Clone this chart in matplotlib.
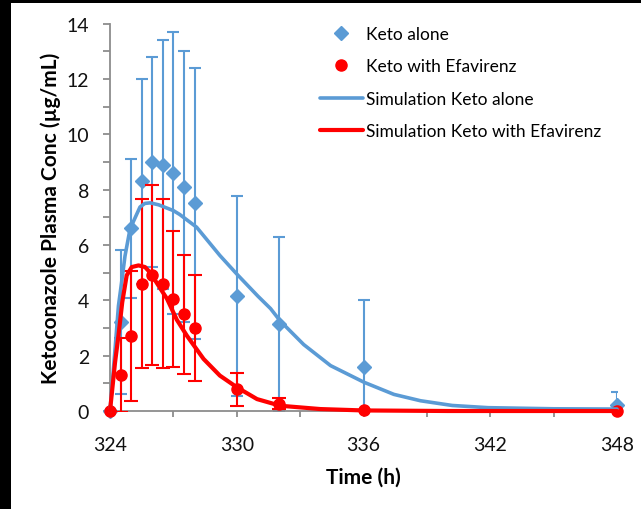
import matplotlib.pyplot as plt
from matplotlib.patches import Rectangle
from matplotlib.ticker import MultipleLocator

plt.rcParams['font.family'] = ['Lato', 'DejaVu Sans']

# observed data (mean, SD)
time_obs = [324, 324.5, 325, 325.5, 326, 326.5, 327, 327.5, 328, 330, 332, 336, 348]
keto_alone = [0, 3.2, 6.6, 8.3, 9.0, 8.9, 8.6, 8.1, 7.5, 4.15, 3.15, 1.6, 0.2]
keto_alone_sd = [0, 2.6, 2.5, 3.7, 3.8, 4.5, 5.1, 4.9, 4.9, 3.6, 3.15, 2.4, 0.5]
keto_efa = [0, 1.3, 2.7, 4.6, 4.9, 4.6, 4.05, 3.5, 3.0, 0.78, 0.27, 0.03, 0.0]
keto_efa_sd = [0, 1.35, 2.35, 3.05, 3.25, 3.05, 2.45, 2.15, 1.9, 0.6, 0.2, 0.0, 0.0]

# simulated profiles
sim_time_alone = [324, 324.24, 324.4, 324.55, 324.71, 324.95, 325.2, 325.42, 325.65,
                  325.9, 326.3, 327.0, 327.3, 328.1, 329.2, 330.0, 331.0, 331.6,
                  332.06, 333.17, 334.44, 336.02, 337.44, 338.7, 340.2, 341.9,
                  345, 348]
sim_alone = [0, 2.24, 3.8, 4.65, 5.6, 6.58, 7.0, 7.37, 7.5,
             7.52, 7.45, 7.24, 7.1, 6.64, 5.62, 4.95, 4.15, 3.7,
             3.25, 2.4, 1.64, 1.04, 0.6, 0.37, 0.2, 0.12,
             0.08, 0.07]
sim_time_efa = [324, 324.24, 324.4, 324.58, 324.79, 325.03, 325.35, 325.66, 325.9,
                326.7, 327.16, 327.64, 328.43, 329.2, 330.0, 330.96, 332.06,
                333.96, 336, 340, 348]
sim_efa = [0, 1.76, 2.72, 3.93, 4.9, 5.2, 5.26, 5.2, 5.0,
           4.05, 3.3, 2.72, 1.88, 1.28, 0.86, 0.43, 0.19,
           0.07, 0.02, 0, 0]

BLUE = '#5B9BD5'
RED = '#FF0000'
AXIS_GREY = '#8C8C8C'

fig = plt.figure(figsize=(6.41, 5.10), dpi=100)
fig.patch.set_facecolor('black')
fig.patches.append(Rectangle((11 / 641, 0), 1, 1 - 4 / 510, linewidth=0,
                             transform=fig.transFigure, facecolor='white', zorder=-1))

ax = fig.add_axes([110 / 641, 98 / 510, 507 / 641, 387.5 / 510])
ax.set_facecolor('none')

ax.errorbar(time_obs, keto_alone, yerr=keto_alone_sd, fmt='none',
            ecolor=BLUE, elinewidth=1.5, capsize=4, capthick=1.5, zorder=2)
ax.plot(time_obs, keto_alone, 'D', color=BLUE, markersize=7,
        clip_on=False, zorder=3, label='Keto alone')
ax.errorbar(time_obs, keto_efa, yerr=keto_efa_sd, fmt='none',
            ecolor=RED, elinewidth=1.5, capsize=5, capthick=1.5, zorder=4)
ax.plot(time_obs, keto_efa, 'o', color=RED, markersize=8,
        clip_on=False, zorder=5, label='Keto with Efavirenz')
ax.plot(sim_time_alone, sim_alone, '-', color=BLUE, linewidth=2.6,
        solid_joinstyle='round', solid_capstyle='round', clip_on=False,
        zorder=6, label='Simulation Keto alone')
ax.plot(sim_time_efa, sim_efa, '-', color=RED, linewidth=3,
        solid_joinstyle='round', solid_capstyle='round', clip_on=False,
        zorder=7, label='Simulation Keto with Efavirenz')

ax.set_xlim(324, 348)
ax.set_ylim(0, 14)
ax.xaxis.set_major_locator(MultipleLocator(6))
ax.xaxis.set_minor_locator(MultipleLocator(3))
ax.yaxis.set_major_locator(MultipleLocator(2))
ax.yaxis.set_minor_locator(MultipleLocator(1))

for side in ['top', 'right']:
    ax.spines[side].set_visible(False)
for side in ['left', 'bottom']:
    ax.spines[side].set_color(AXIS_GREY)
    ax.spines[side].set_linewidth(1.3)

ax.tick_params(axis='both', which='both', direction='out', color=AXIS_GREY,
               width=1.3, labelsize=14, labelcolor='#111111')
ax.tick_params(axis='x', which='both', length=4, pad=14)
ax.tick_params(axis='y', which='both', length=5, pad=10)

ax.set_xlabel('Time (h)', fontsize=15, fontweight='bold', labelpad=10)
ax.set_ylabel('Ketoconazole Plasma Conc (µg/mL)', fontsize=15,
              fontweight='bold', labelpad=4)

ax.legend(loc='upper left', bbox_to_anchor=(320 / 641, 1 - 27 / 510),
          bbox_transform=fig.transFigure, frameon=False, fontsize=12.5,
          borderpad=0, borderaxespad=0, handlelength=2.45, handletextpad=0.2,
          labelspacing=0.95, numpoints=1)

fig.savefig('out.png', dpi=100, facecolor=fig.get_facecolor())
